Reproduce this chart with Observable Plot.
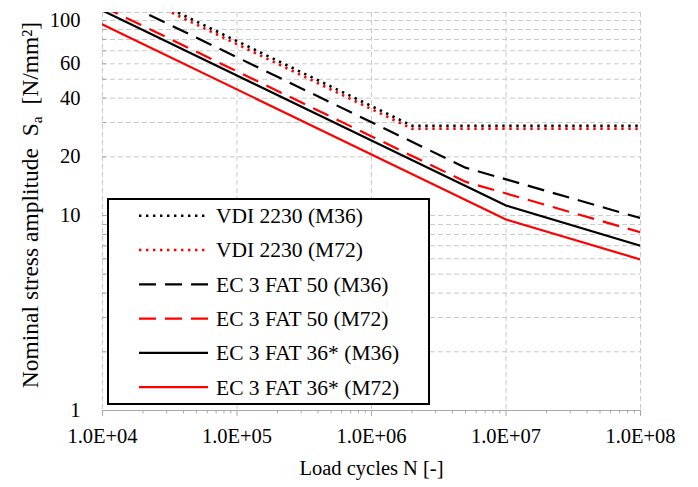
<!DOCTYPE html>
<html><head><meta charset="utf-8">
<script src="https://cdn.jsdelivr.net/npm/d3@7"></script>
<script src="https://cdn.jsdelivr.net/npm/@observablehq/plot@0.6"></script>
<style>
html,body{margin:0;padding:0;background:#fff;}
#chart{width:698px;height:487px;}
</style></head><body><div id="chart"></div>
<script>
// ---- data ----
const xTicks = [1e4, 1e5, 1e6, 1e7, 1e8];
const xTickLabels = ["1.0E+04", "1.0E+05", "1.0E+06", "1.0E+07", "1.0E+08"];
const xMinorTicks = [2e4,3e4,4e4,5e4,6e4,7e4,8e4,9e4, 2e5,3e5,4e5,5e5,6e5,7e5,8e5,9e5,
                     2e6,3e6,4e6,5e6,6e6,7e6,8e6,9e6, 2e7,3e7,4e7,5e7,6e7,7e7,8e7,9e7];
const yTickValues = [1, 10, 20, 40, 60, 100];
const yTickLabels = ["1", "10", "20", "40", "60", "100"];
const yGridValues = [2,3,4,5,6,7,8,9,10,20,30,40,50,60,70,80,90,100];
const xDomain = [1e4, 1e8];
const yDomain = [1, 110];

const seriesNames = ["VDI 2230 (M36)", "VDI 2230 (M72)", "EC 3 FAT 50 (M36)", "EC 3 FAT 50 (M72)", "EC 3 FAT 36* (M36)", "EC 3 FAT 36* (M72)"];
const vdiN = [1e4, 2e6, 1e8];
const vdiM36 = [169, 28.9, 28.9];
const vdiM72 = [163, 27.9, 27.9];
const fat50N = [1e4, 5e6, 1e8];
const fat50M36 = [139.7, 17.6, 9.7];
const fat50M72 = [118.3, 14.9, 8.2];
const fat36N = [1e4, 1e7, 1e8];
const fat36M36 = [112.6, 11.26, 7.0];
const fat36M72 = [95.5, 9.55, 5.95];

// ---- styles ----
const RED = "#ff0000", BLACK = "#000000";
const styles = {
  "VDI 2230 (M36)":     {stroke: BLACK, dash: "2.4,4.6", width: 2.6},
  "VDI 2230 (M72)":     {stroke: RED,   dash: "2.4,4.6", width: 2.6},
  "EC 3 FAT 50 (M36)":  {stroke: BLACK, dash: "17,9",    width: 2.2},
  "EC 3 FAT 50 (M72)":  {stroke: RED,   dash: "17,9",    width: 2.2},
  "EC 3 FAT 36* (M36)": {stroke: BLACK, dash: null,      width: 2.2},
  "EC 3 FAT 36* (M72)": {stroke: RED,   dash: null,      width: 2.2}
};
const seriesData = [
  [vdiN, vdiM36], [vdiN, vdiM72], [fat50N, fat50M36], [fat50N, fat50M72], [fat36N, fat36M36], [fat36N, fat36M72]
];
const rows = seriesNames.map((name, i) =>
  seriesData[i][0].map((n, j) => ({name, N: n, S: seriesData[i][1][j]})));

const GRID = "#c9c9c9", AXIS = "#a9a9a9";
const FONT = "'Liberation Serif', 'Times New Roman', serif";

const lineMarks = rows.map(r => {
  const s = styles[r[0].name];
  const o = {x: "N", y: "S", stroke: s.stroke, strokeWidth: s.width, clip: true, strokeLinejoin: "round"};
  if (s.dash) { o.strokeDasharray = s.dash; o.strokeLinecap = "butt"; }
  return Plot.line(r, o);
});

const plot = Plot.plot({
  width: 698, height: 487,
  marginLeft: 102, marginRight: 58, marginTop: 12, marginBottom: 77,
  x: {type: "log", domain: xDomain},
  y: {type: "log", domain: yDomain},
  style: {fontFamily: FONT, fontSize: "20.5px", color: "#000", background: "#fff"},
  marks: [
    Plot.ruleY(yGridValues, {stroke: GRID, strokeDasharray: "5,3"}),
    Plot.ruleY([yDomain[1]], {stroke: GRID, strokeDasharray: "5,3"}),
    Plot.ruleX(xTicks, {stroke: GRID, strokeDasharray: "5,3"}),
    Plot.ruleY([yDomain[0]], {stroke: AXIS, strokeWidth: 1.2}),
    Plot.axisY({ticks: yGridValues, tickSize: 4, dx: 4, fill: "none", stroke: AXIS, label: null}),
    Plot.text(yTickValues, {y: d => d, text: (d, i) => yTickLabels[i], frameAnchor: "left",
      textAnchor: "end", dx: -22, fontSize: 20.5}),
    Plot.axisX({ticks: xMinorTicks, tickSize: 3.5, fill: "none", stroke: AXIS, label: null}),
    Plot.axisX({ticks: xTicks, tickSize: 6, stroke: AXIS, tickPadding: 12,
      tickFormat: d => xTickLabels[xTicks.indexOf(d)],
      label: "Load cycles N [-]", labelAnchor: "center", labelArrow: "none", labelOffset: 64}),
    ...lineMarks
  ]
});

document.getElementById("chart").appendChild(plot);
const svg = d3.select(plot);

// y-axis title with subscript a
const yl = svg.append("text")
  .attr("transform", "translate(38,205) rotate(-90)")
  .attr("text-anchor", "middle")
  .style("white-space", "pre")
  .attr("font-family", FONT).attr("font-size", 23.5).attr("fill", "#000");
yl.append("tspan").text("Nominal stress amplitude  S");
yl.append("tspan").attr("font-size", 15.5).attr("dy", 4).text("a");
yl.append("tspan").attr("dy", -4).text("  [N/mm²]");

// legend
const lg = svg.append("g").attr("text-anchor", "start");
lg.append("rect").attr("x", 108).attr("y", 199).attr("width", 321).attr("height", 205)
  .attr("fill", "#fff").attr("stroke", "#000").attr("stroke-width", 2);
seriesNames.forEach((name, i) => {
  const s = styles[name];
  const yy = 215.7 + i * 34.3;
  const ln = lg.append("line").attr("x1", 139).attr("x2", 208).attr("y1", yy).attr("y2", yy)
    .attr("stroke", s.stroke).attr("stroke-width", s.width);
  if (s.dash) ln.attr("stroke-dasharray", s.dash);
  lg.append("text").attr("x", 216).attr("y", yy).attr("dy", "0.34em").attr("text-anchor", "start")
    .attr("font-family", FONT).attr("font-size", 21.5).attr("fill", "#000").text(name);
});
</script></body></html>
